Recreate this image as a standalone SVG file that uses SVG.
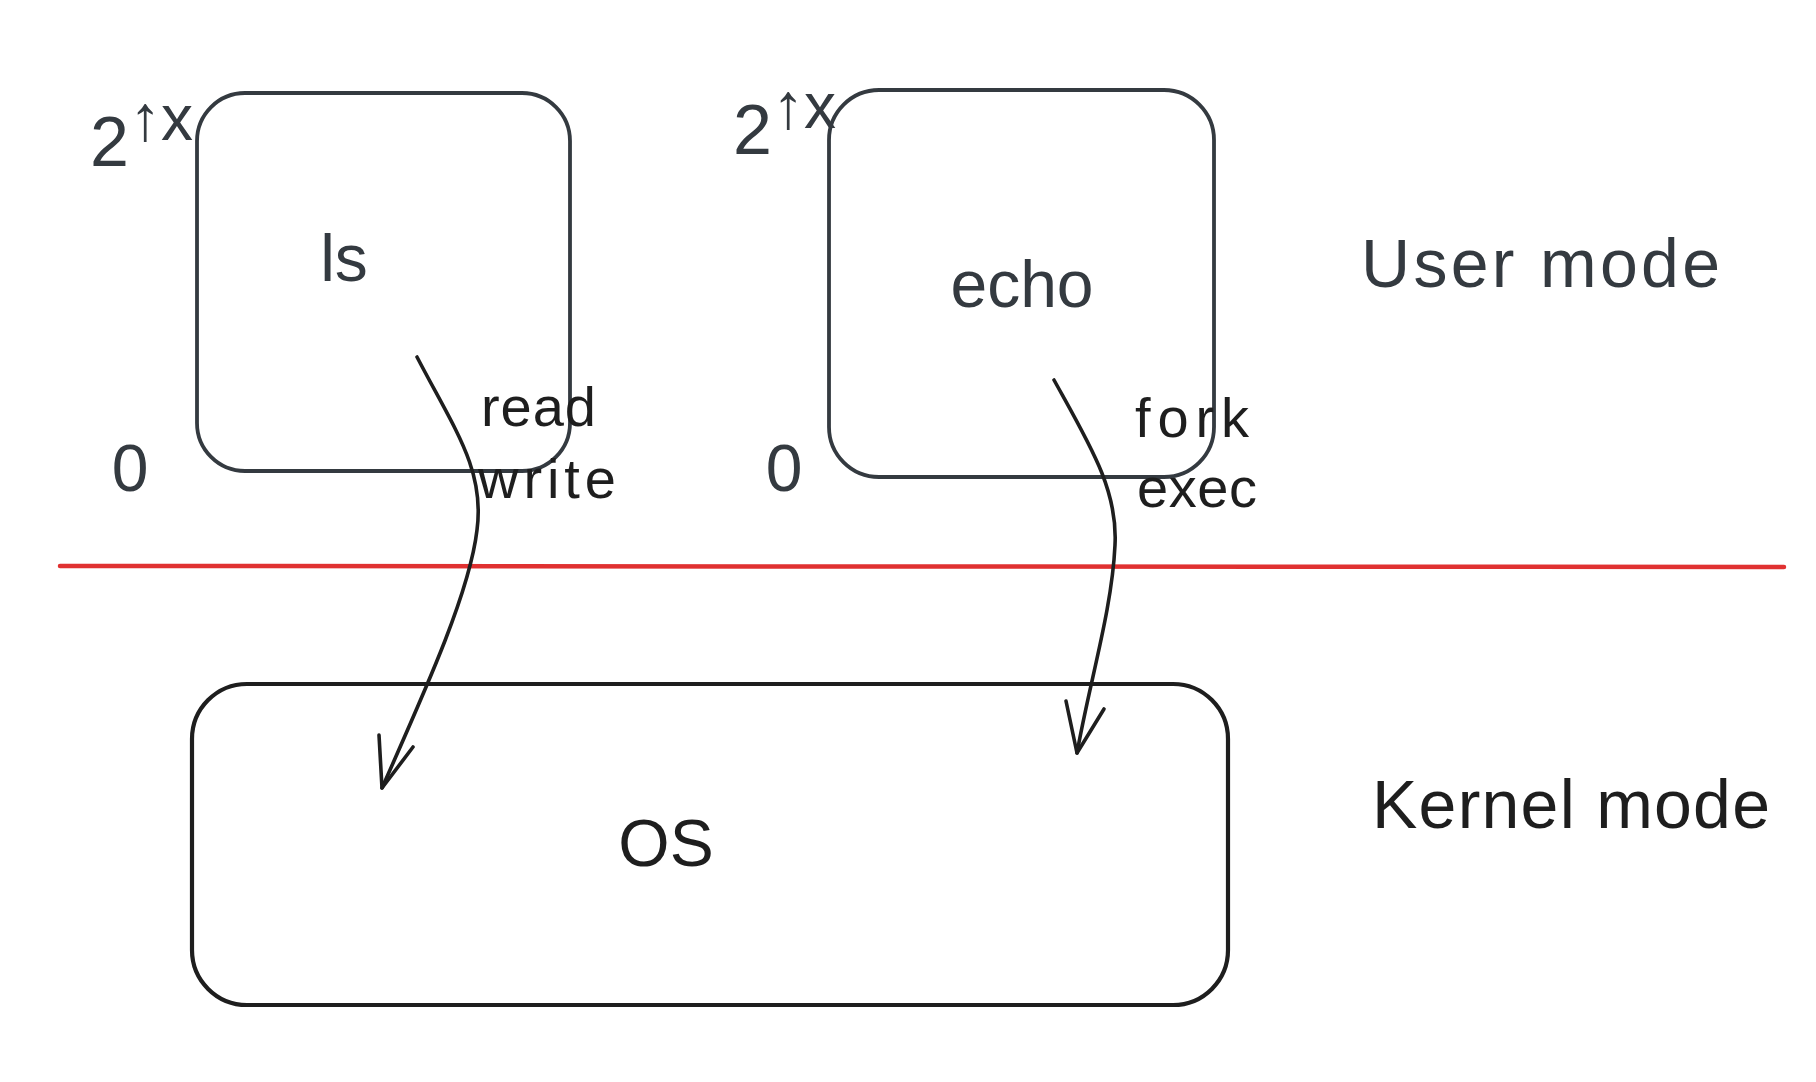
<svg xmlns="http://www.w3.org/2000/svg" width="1816" height="1082" viewBox="0 0 1816 1082">
<style>
  .box { fill: none; stroke: #343a40; stroke-width: 3.8; }
  .os { fill: none; stroke: #1e1e1e; stroke-width: 4.2; }
  .lbl { font-family: "Liberation Sans", "DejaVu Sans", sans-serif; fill: #343a40; }
  .klbl { font-family: "Liberation Sans", "DejaVu Sans", sans-serif; fill: #1e1e1e; }
  .conn { fill: none; stroke: #1e1e1e; stroke-width: 3.6; stroke-linecap: round; stroke-linejoin: round; }
</style>
<rect width="1816" height="1082" fill="#ffffff"/>

<g id="divider">
  <path d="M60,566 L1784,567" stroke="#e03131" stroke-width="4.5" fill="none" stroke-linecap="round"/>
</g>

<g id="node-ls">
  <rect class="box" x="197" y="93" width="373" height="378" rx="48"/>
  <text class="lbl" x="344" y="281" font-size="66" text-anchor="middle">ls</text>
</g>

<g id="node-echo">
  <rect class="box" x="829" y="90" width="385" height="387" rx="50"/>
  <text class="lbl" x="1022" y="307" font-size="66" text-anchor="middle">echo</text>
</g>

<g id="node-os">
  <rect class="os" x="192" y="684" width="1036" height="321" rx="55"/>
  <text class="klbl" x="666" y="866" font-size="66" text-anchor="middle">OS</text>
</g>

<g id="addr-ls">
  <text class="lbl" x="90" y="166" font-size="70">2<tspan dy="-26" font-size="64">↑x</tspan></text>
  <text class="lbl" x="130" y="491" font-size="66" text-anchor="middle">0</text>
</g>

<g id="addr-echo">
  <text class="lbl" x="733" y="154" font-size="70">2<tspan dy="-26" font-size="64">↑x</tspan></text>
  <text class="lbl" x="784" y="491" font-size="66" text-anchor="middle">0</text>
</g>

<g id="mode-labels">
  <text class="lbl" x="1361" y="287" font-size="68" textLength="359" lengthAdjust="spacing">User mode</text>
  <text class="klbl" x="1372" y="828" font-size="68" textLength="398" lengthAdjust="spacing">Kernel mode</text>
</g>

<g id="connectors">
  <path class="conn" d="M417,357 C455,430 485,470 477,530 C470,590 430,680 382,788"/>
  <path class="conn" d="M379,735 L382,788 L413,747"/>
  <path class="conn" d="M1054,380 C1090,445 1118,490 1115,545 C1112,610 1090,680 1077,753"/>
  <path class="conn" d="M1066,701 L1077,753 L1104,709"/>
  <text class="klbl" x="481" y="426" font-size="56" textLength="115" lengthAdjust="spacing">read</text>
  <text class="klbl" x="478" y="498" font-size="56" textLength="138" lengthAdjust="spacing">write</text>
  <text class="klbl" x="1135" y="437" font-size="56" textLength="114" lengthAdjust="spacing">fork</text>
  <text class="klbl" x="1137" y="507" font-size="56" textLength="120" lengthAdjust="spacing">exec</text>
</g>
</svg>
